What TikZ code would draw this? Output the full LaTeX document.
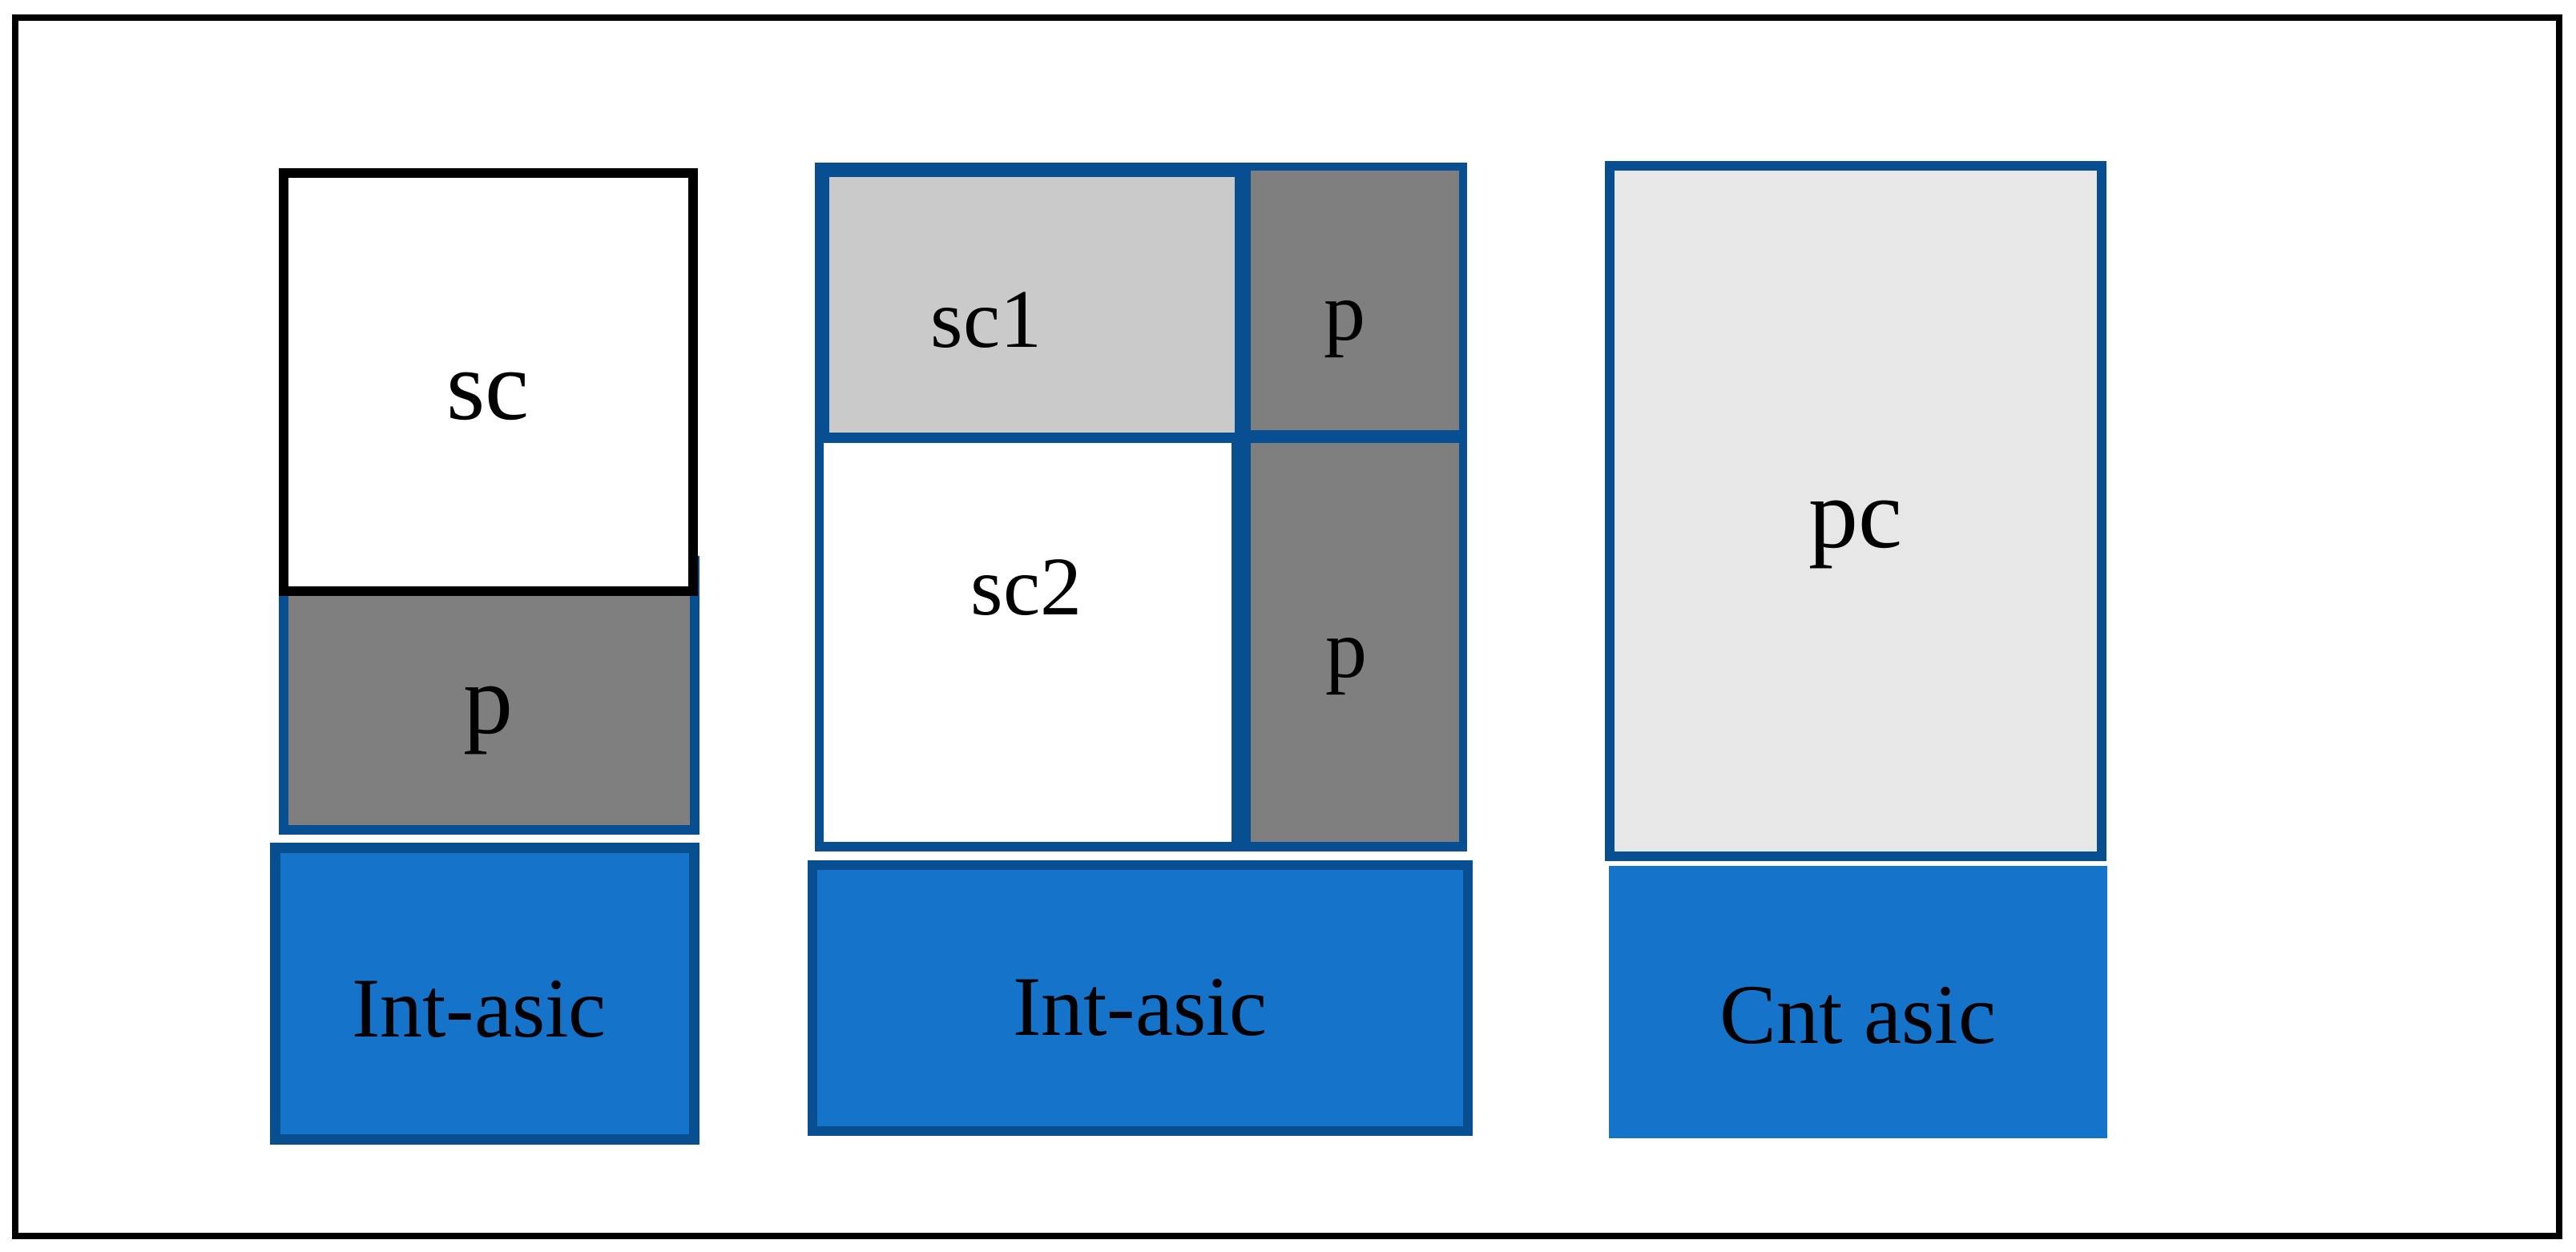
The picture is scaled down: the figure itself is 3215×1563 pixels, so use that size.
\documentclass[tikz,border=0pt]{standalone}
\usepackage{fontspec}
\setmainfont{Liberation Serif}
\definecolor{bordblue}{RGB}{8,79,145}
\definecolor{fillblue}{RGB}{22,115,202}
\definecolor{pgrey}{RGB}{127,127,127}
\definecolor{scgrey}{RGB}{202,202,202}
\definecolor{pcgrey}{RGB}{231,231,231}
\tikzset{
  lbl/.style={inner sep=0pt, anchor=base, text=black},
  big/.style={lbl, font=\fontsize{31}{36}\selectfont},
  mid/.style={lbl, font=\fontsize{26}{30}\selectfont},
  asic/.style={lbl, font=\fontsize{26.5}{30}\selectfont},
  blueedge/.style={draw=bordblue, line width=3pt},
}
\begin{document}
\begin{tikzpicture}[x=0.25pt, y=-0.25pt]
\useasboundingbox (0,0) rectangle (3215,1563);
% outer frame
\draw[line width=2pt, black] (19,21.5) rectangle (3194,1542.5);

% ---- left column ----
\draw[blueedge, fill=pgrey] (354,700) rectangle (867,1036);
\draw[line width=3pt, black, fill=white] (354,216) rectangle (864.5,738);
\draw[blueedge, line width=3.2pt, fill=fillblue] (343.5,1058.5) rectangle (866.5,1422.5);
\node[big] (scL) at (609,523) {sc};
\node[big] (pL) at (609,915) {p};
\node[asic] (intL) at (598,1294) {Int-asic};

% ---- middle column ----
\fill[bordblue] (1017,203) rectangle (1831,1063);
\fill[scgrey] (1035,221) rectangle (1541,540);
\fill[pgrey] (1561,213) rectangle (1821,537);
\fill[white] (1028,553) rectangle (1537,1051);
\fill[pgrey] (1561,553) rectangle (1821,1051);
\draw[blueedge, fill=fillblue] (1014,1080) rectangle (1832,1412);
\node[mid] (sc1) at (1231,433) {sc1};
\node[mid] (pTR) at (1678,424) {p};
\node[mid] (sc2) at (1281,767) {sc2};
\node[mid] (pBR) at (1680,845) {p};
\node[asic] (intM) at (1423,1292) {Int-asic};

% ---- right column ----
\draw[blueedge, fill=pcgrey] (2009,207) rectangle (2623,1069);
\fill[fillblue] (2008,1081) rectangle (2630,1421);
\node[big] (pc) at (2316,683) {pc};
\node[asic] (cnt) at (2319,1302) {Cnt asic};
\end{tikzpicture}
\end{document}
